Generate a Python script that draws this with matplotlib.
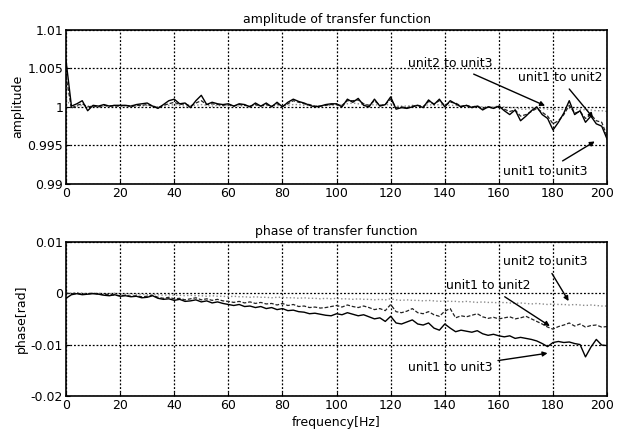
import numpy as np
import matplotlib
matplotlib.use('Agg')
import matplotlib.pyplot as plt
import matplotlib.transforms as mtransforms

freq = np.arange(0, 201, 2)

# amplitude, unit1 to unit3 (solid)
amp_13 = [1.0060, 1.0001, 1.0004, 1.0008, 0.9995, 1.0002, 1.0001, 1.0003, 1.0001, 1.0002,
          1.0002, 1.0002, 1.0001, 1.0003, 1.0004, 1.0005, 1.0001, 0.9998, 1.0003, 1.0008,
          1.0010, 1.0004, 1.0005, 0.9999, 1.0008, 1.0015, 1.0003, 1.0006, 1.0004, 1.0003,
          1.0004, 1.0001, 1.0004, 1.0003, 1.0000, 1.0005, 1.0001, 1.0005, 1.0000, 1.0006,
          1.0000, 1.0006, 1.0010, 1.0007, 1.0005, 1.0002, 1.0000, 1.0001, 1.0003, 1.0004,
          1.0004, 1.0000, 1.0010, 1.0006, 1.0011, 1.0002, 1.0000, 1.0010, 1.0001, 1.0003,
          1.0013, 0.9997, 0.9999, 0.9998, 1.0000, 1.0002, 0.9999, 1.0009, 1.0003, 1.0010,
          1.0000, 1.0008, 1.0004, 1.0000, 1.0002, 0.9999, 1.0001, 0.9996, 1.0000, 0.9998,
          1.0001, 0.9995, 0.9990, 0.9996, 0.9982, 0.9988, 0.9995, 1.0000, 0.9990, 0.9985,
          0.9970, 0.9980, 0.9992, 1.0008, 0.9990, 0.9995, 0.9980, 0.9988, 0.9978, 0.9975,
          0.9958]

# amplitude, unit1 to unit2 (dashed)
amp_12 = [1.0040, 0.9998, 1.0002, 1.0004, 1.0000, 1.0001, 1.0000, 1.0002, 1.0001, 1.0001,
          1.0001, 1.0002, 1.0000, 1.0002, 1.0002, 1.0003, 1.0001, 0.9999, 1.0002, 1.0004,
          1.0006, 1.0003, 1.0004, 1.0001, 1.0005, 1.0008, 1.0003, 1.0004, 1.0003, 1.0002,
          1.0003, 1.0001, 1.0003, 1.0002, 1.0001, 1.0003, 1.0001, 1.0003, 1.0001, 1.0004,
          1.0001, 1.0004, 1.0008, 1.0006, 1.0004, 1.0003, 1.0001, 1.0001, 1.0002, 1.0003,
          1.0003, 1.0002, 1.0008, 1.0008, 1.0009, 1.0004, 1.0002, 1.0008, 1.0002, 1.0003,
          1.0010, 0.9999, 1.0000, 0.9999, 1.0001, 1.0002, 1.0000, 1.0007, 1.0004, 1.0008,
          1.0002, 1.0006, 1.0005, 1.0001, 1.0002, 1.0000, 1.0001, 0.9998, 1.0000, 0.9999,
          1.0000, 0.9997, 0.9994, 0.9996, 0.9988, 0.9990, 0.9994, 0.9998, 0.9993, 0.9988,
          0.9978, 0.9982, 0.9990, 1.0002, 0.9992, 0.9994, 0.9985, 0.9990, 0.9982, 0.9980,
          0.9962]

# amplitude, unit2 to unit3 (dotted)
amp_23 = [1.0010, 1.0000, 1.0001, 1.0002, 1.0001, 1.0001, 1.0000, 1.0001, 1.0001, 1.0002,
          1.0001, 1.0001, 1.0002, 1.0001, 1.0001, 1.0002, 1.0001, 1.0000, 1.0001, 1.0002,
          1.0003, 1.0002, 1.0001, 1.0001, 1.0002, 1.0003, 1.0002, 1.0001, 1.0002, 1.0001,
          1.0002, 1.0001, 1.0001, 1.0002, 1.0001, 1.0002, 1.0001, 1.0002, 1.0001, 1.0002,
          1.0001, 1.0002, 1.0003, 1.0003, 1.0002, 1.0002, 1.0001, 1.0001, 1.0002, 1.0002,
          1.0003, 1.0002, 1.0004, 1.0005, 1.0004, 1.0003, 1.0002, 1.0003, 1.0002, 1.0002,
          1.0004, 1.0001, 1.0001, 1.0001, 1.0002, 1.0002, 1.0001, 1.0003, 1.0002, 1.0003,
          1.0002, 1.0002, 1.0002, 1.0001, 1.0001, 1.0000, 1.0001, 1.0000, 1.0000, 1.0000,
          1.0001, 1.0000, 0.9999, 0.9999, 0.9997, 0.9997, 0.9998, 0.9999, 0.9998, 0.9997,
          0.9996, 0.9996, 0.9997, 0.9998, 0.9997, 0.9997, 0.9996, 0.9996, 0.9995, 0.9995,
          0.9994]

# phase, unit1 to unit3 (solid)
ph_13 = [-0.0010, -0.0003, -0.0001, -0.0003, -0.0002, -0.0001, -0.0002, -0.0004, -0.0005, -0.0003,
         -0.0006, -0.0005, -0.0007, -0.0006, -0.0009, -0.0008, -0.0005, -0.0010, -0.0012, -0.0011,
         -0.0014, -0.0012, -0.0016, -0.0015, -0.0013, -0.0017, -0.0015, -0.0019, -0.0017, -0.0020,
         -0.0022, -0.0024, -0.0022, -0.0026, -0.0025, -0.0028, -0.0026, -0.0030, -0.0028, -0.0032,
         -0.0030, -0.0034, -0.0033, -0.0036, -0.0037, -0.0040, -0.0039, -0.0041, -0.0043, -0.0044,
         -0.0040, -0.0042, -0.0038, -0.0041, -0.0044, -0.0042, -0.0046, -0.0050, -0.0048, -0.0055,
         -0.0045, -0.0058, -0.0060, -0.0056, -0.0052, -0.0060, -0.0062, -0.0058, -0.0068, -0.0072,
         -0.0060, -0.0068, -0.0075, -0.0072, -0.0074, -0.0076, -0.0073, -0.0079, -0.0082, -0.0080,
         -0.0083, -0.0085, -0.0083, -0.0088, -0.0086, -0.0088, -0.0090, -0.0093, -0.0098, -0.0104,
         -0.0096, -0.0094, -0.0096, -0.0095, -0.0098, -0.0100, -0.0124, -0.0105, -0.0090, -0.0101,
         -0.0102]

# phase, unit1 to unit2 (dashed)
ph_12 = [0.0000, -0.0001, 0.0000, -0.0002, -0.0001, 0.0000, -0.0002, -0.0003, -0.0002, -0.0004,
         -0.0005, -0.0004, -0.0006, -0.0005, -0.0007, -0.0006, -0.0004, -0.0008, -0.0010, -0.0008,
         -0.0011, -0.0010, -0.0013, -0.0011, -0.0009, -0.0013, -0.0011, -0.0014, -0.0012, -0.0015,
         -0.0016, -0.0018, -0.0016, -0.0019, -0.0017, -0.0020, -0.0018, -0.0021, -0.0020, -0.0023,
         -0.0020, -0.0024, -0.0022, -0.0026, -0.0025, -0.0028, -0.0027, -0.0029, -0.0028, -0.0026,
         -0.0024, -0.0027, -0.0023, -0.0026, -0.0028, -0.0025, -0.0028, -0.0032, -0.0030, -0.0034,
         -0.0022, -0.0036, -0.0038, -0.0035, -0.0030, -0.0038, -0.0040, -0.0036, -0.0042, -0.0045,
         -0.0035, -0.0030, -0.0048, -0.0044, -0.0046, -0.0043, -0.0040, -0.0046, -0.0049, -0.0047,
         -0.0050, -0.0048, -0.0046, -0.0050, -0.0048, -0.0045, -0.0050, -0.0055, -0.0060, -0.0066,
         -0.0070, -0.0065, -0.0062, -0.0058, -0.0064, -0.0060, -0.0066, -0.0063, -0.0062, -0.0066,
         -0.0065]

# phase, unit2 to unit3 (dotted)
ph_23 = [0.0000, 0.0000, 0.0001, 0.0000, -0.0001, 0.0000, 0.0000, -0.0001, -0.0001, 0.0000,
         -0.0001, -0.0002, -0.0001, -0.0002, -0.0002, -0.0003, -0.0002, -0.0003, -0.0004, -0.0003,
         -0.0004, -0.0004, -0.0005, -0.0004, -0.0005, -0.0005, -0.0006, -0.0005, -0.0006, -0.0006,
         -0.0007, -0.0006, -0.0007, -0.0007, -0.0008, -0.0007, -0.0008, -0.0008, -0.0009, -0.0008,
         -0.0008, -0.0009, -0.0009, -0.0010, -0.0009, -0.0010, -0.0010, -0.0011, -0.0010, -0.0011,
         -0.0010, -0.0011, -0.0011, -0.0012, -0.0011, -0.0012, -0.0012, -0.0013, -0.0012, -0.0013,
         -0.0011, -0.0013, -0.0014, -0.0013, -0.0014, -0.0014, -0.0015, -0.0014, -0.0015, -0.0016,
         -0.0015, -0.0016, -0.0016, -0.0017, -0.0016, -0.0017, -0.0018, -0.0017, -0.0018, -0.0018,
         -0.0019, -0.0018, -0.0019, -0.0020, -0.0019, -0.0020, -0.0021, -0.0020, -0.0021, -0.0022,
         -0.0021, -0.0022, -0.0022, -0.0023, -0.0022, -0.0023, -0.0024, -0.0023, -0.0024, -0.0025,
         -0.0025]

x_ticks = list(range(0, 201, 20))
amp_ticks = [0.99, 0.995, 1.0, 1.005, 1.01]
amp_tick_labels = ['0.99', '0.995', '1', '1.005', '1.01']
ph_ticks = [-0.02, -0.01, 0.0, 0.01]
ph_tick_labels = ['-0.02', '-0.01', '0', '0.01']

plt.rcParams['font.family'] = 'DejaVu Sans'
plt.rcParams['font.size'] = 9

fig = plt.figure(figsize=(6.17, 4.38), dpi=100)
ax1 = fig.add_axes([0.107, 0.580, 0.877, 0.352])
ax2 = fig.add_axes([0.107, 0.096, 0.877, 0.352])


def style_axes(ax):
    ax.set_xlim(0, 200)
    ax.set_xticks(x_ticks)
    ax.grid(True, linestyle=(0, (1.5, 1.5)), color='black', linewidth=0.9)
    ax.tick_params(direction='in', length=3, labelsize=9, pad=2)
    for sp in ax.spines.values():
        sp.set_linewidth(1.2)
    # keep the last x label ("200") inside the figure
    last = ax.get_xticklabels()[-1]
    shift = mtransforms.ScaledTranslation(-4 / 72, 0, fig.dpi_scale_trans)
    last.set_transform(last.get_transform() + shift)


arrow = dict(arrowstyle='-|>', color='black', lw=1.0, mutation_scale=7)

# amplitude
ax1.plot(freq, amp_23, color='#8c8c8c', linestyle=':', linewidth=1.0)
ax1.plot(freq, amp_12, color='#222222', linestyle=(0, (3, 1.5)), linewidth=0.9)
ax1.plot(freq, amp_13, color='black', linewidth=1.0)
style_axes(ax1)
ax1.set_ylim(0.99, 1.01)
ax1.set_yticks(amp_ticks)
ax1.set_yticklabels(amp_tick_labels)
ax1.set_ylabel('amplitude', fontsize=9, labelpad=2)
ax1.set_title('amplitude of transfer function', fontsize=9, pad=5)
ax1.annotate('unit2 to unit3', xy=(178, 1.0000), xytext=(142, 1.0056),
             ha='center', va='center', fontsize=9, arrowprops=arrow)
ax1.annotate('unit1 to unit2', xy=(195.5, 0.9983), xytext=(182.5, 1.0038),
             ha='center', va='center', fontsize=9, arrowprops=arrow)
ax1.annotate('unit1 to unit3', xy=(196.3, 0.9957), xytext=(177, 0.9916),
             ha='center', va='center', fontsize=9, arrowprops=arrow)

# phase
ax2.plot(freq, ph_23, color='#8c8c8c', linestyle=':', linewidth=1.0)
ax2.plot(freq, ph_12, color='#222222', linestyle=(0, (3, 1.5)), linewidth=0.9)
ax2.plot(freq, ph_13, color='black', linewidth=1.0)
style_axes(ax2)
ax2.set_ylim(-0.02, 0.01)
ax2.set_yticks(ph_ticks)
ax2.set_yticklabels(ph_tick_labels)
ax2.set_ylabel('phase[rad]', fontsize=9, labelpad=2)
ax2.set_xlabel('frequency[Hz]', fontsize=9, labelpad=3)
ax2.set_title('phase of transfer function', fontsize=9, pad=5)
ax2.annotate('unit2 to unit3', xy=(186.3, -0.0020), xytext=(177, 0.0061),
             ha='center', va='center', fontsize=9, arrowprops=arrow)
ax2.annotate('unit1 to unit2', xy=(179.7, -0.0067), xytext=(156, 0.0014),
             ha='center', va='center', fontsize=9, arrowprops=arrow)
ax2.annotate('unit1 to unit3', xy=(179, -0.0116), xytext=(142, -0.0145),
             ha='center', va='center', fontsize=9, arrowprops=arrow)

fig.savefig('out.png', dpi=100)
